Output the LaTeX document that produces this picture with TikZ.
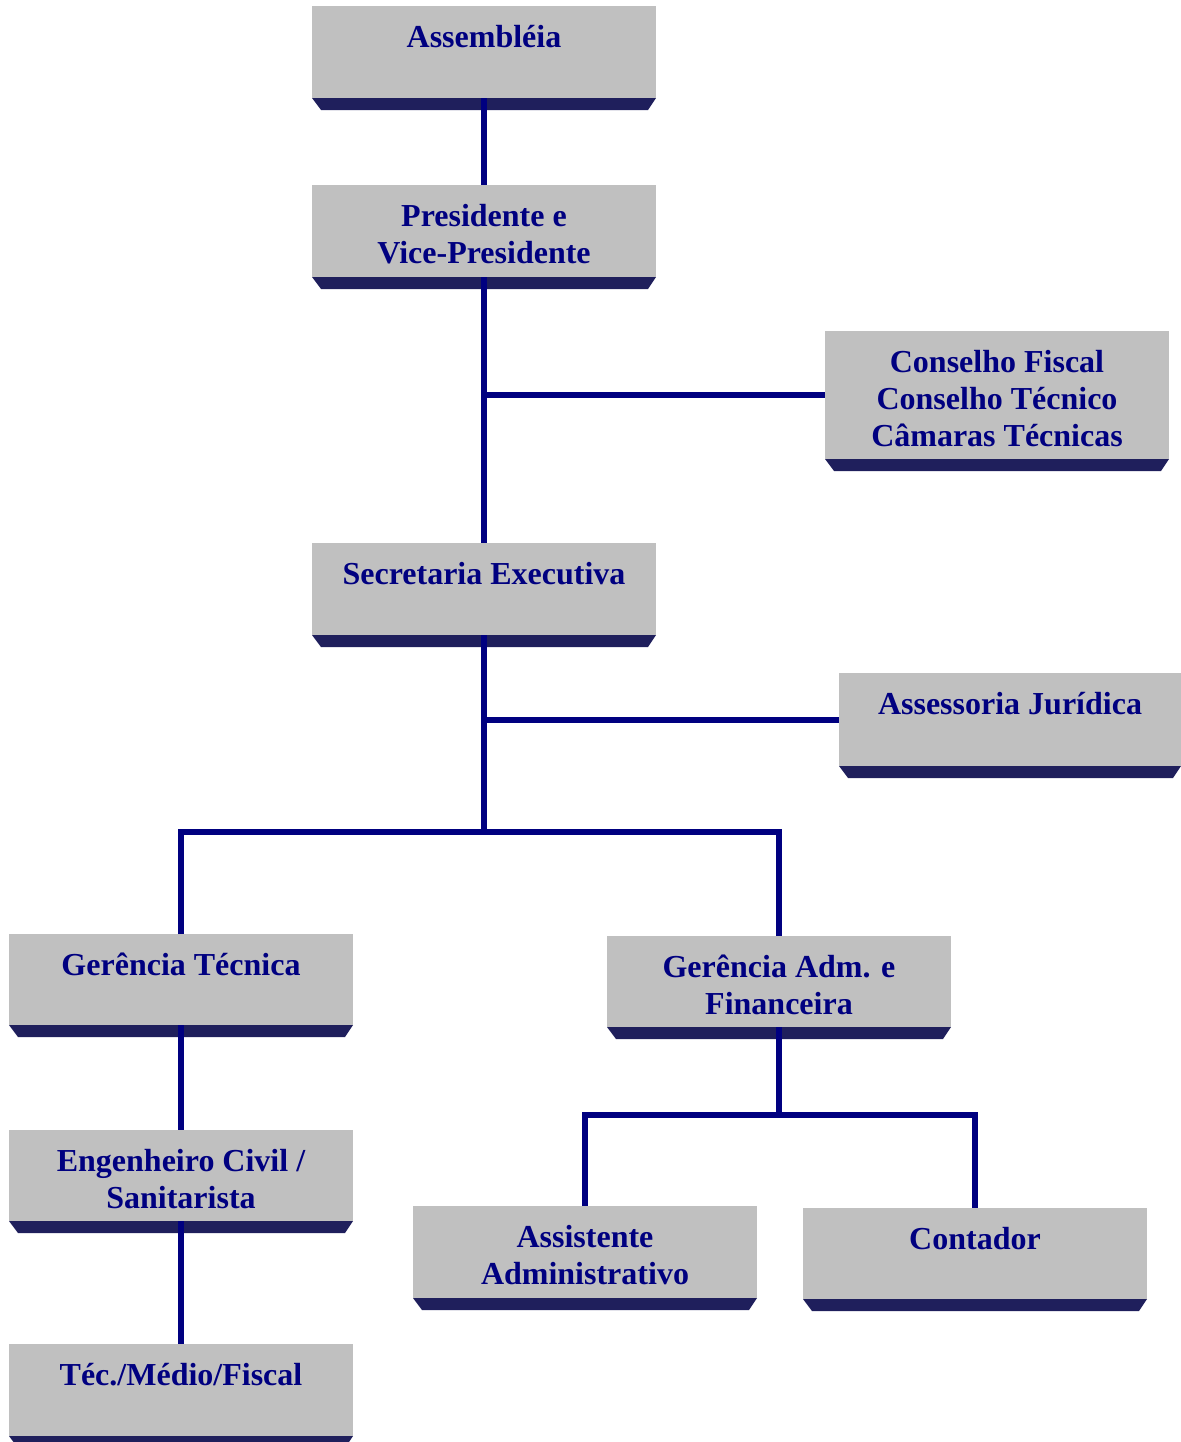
\documentclass[tikz,border=0pt]{standalone}
\usepackage{fontspec}
\setmainfont{Liberation Serif}
\usetikzlibrary{calc}
\definecolor{boxgray}{HTML}{C0C0C0}
\definecolor{bandc}{HTML}{1F1F5C}
\definecolor{navy}{HTML}{000080}
\tikzset{
  box/.style={fill=boxgray, draw=none, inner sep=0, outer sep=0, anchor=north west},
  boxtext/.style={text=navy, font=\fontsize{24}{27.75}\selectfont\bfseries, align=center, inner sep=0, outer sep=0},
  conn/.style={draw=navy, line width=4.5pt, line join=miter, line cap=butt},
}
\newcommand\orgbox[6]{%
  \node[box, minimum width=#4, minimum height=#5] (#1) at (#2,-#3) {};
  \fill[bandc] (#1.south west) -- (#1.south east) -- ++(-8,-12) -- ($(#1.south west)+(9,-12)$) -- cycle;
  \node[boxtext, anchor=north] (#1-t) at ($(#1.north)+(0,-19)$) {#6};
}
\begin{document}
\begin{tikzpicture}[x=0.75pt, y=0.75pt]
\useasboundingbox (0,0) rectangle (1181,-1442);
\orgbox{asm}{312}{6}{258pt}{69pt}{Assembléia}
\orgbox{pres}{312}{185}{258pt}{69pt}{Presidente e\\Vice-Presidente}
\orgbox{cons}{825}{331}{258pt}{96pt}{Conselho Fiscal\\Conselho Técnico\\Câmaras Técnicas}
\orgbox{sec}{312}{543}{258pt}{69pt}{Secretaria Executiva}
\orgbox{asse}{839}{673}{256.5pt}{69.75pt}{Assessoria Jurídica}
\orgbox{gt}{9}{934}{258pt}{68.25pt}{Gerência Técnica}
\orgbox{ga}{607}{936}{258pt}{68.25pt}{Gerência Adm. e\\Financeira}
\orgbox{eng}{9}{1130}{258pt}{68.25pt}{Engenheiro Civil /\\Sanitarista}
\orgbox{aa}{413}{1206}{258pt}{69pt}{Assistente\\Administrativo}
\orgbox{ct}{803}{1208}{258pt}{68.25pt}{Contador}
\orgbox{tec}{9}{1344}{258pt}{69pt}{Téc./Médio/Fiscal}

\coordinate (j1) at ($(sec.south)+(0,-197)$);
\coordinate (j2) at ($(ga.south)+(0,-88)$);

\draw[conn] (asm.south) -- (pres.north);
\draw[conn] (pres.south) -- (sec.north);
\draw[conn] (pres.south |- cons.west) -- (cons.west);
\draw[conn] (sec.south) -- (j1);
\draw[conn] (sec.south |- asse.west) -- (asse.west);
\draw[conn] (gt.north) -- (gt.north |- j1) -- (ga.north |- j1) -- (ga.north);
\draw[conn] (gt.south) -- (eng.north);
\draw[conn] (eng.south) -- (tec.north);
\draw[conn] (ga.south) -- (j2);
\draw[conn] (aa.north) -- (aa.north |- j2) -- (ct.north |- j2) -- (ct.north);
\end{tikzpicture}
\end{document}
